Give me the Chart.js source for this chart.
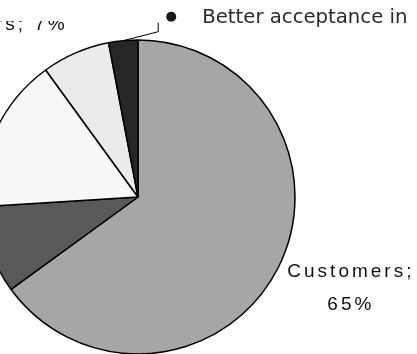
<!DOCTYPE html>
<html><head><meta charset="utf-8">
<script src="https://cdn.jsdelivr.net/npm/chart.js@4"></script>
<style>
html,body{margin:0;padding:0;background:#fff;overflow:hidden;width:417px;height:354px;position:relative;}
#wrap{position:absolute;left:-100px;top:0;width:600px;height:420px;}
</style></head><body>
<div id="wrap"><canvas id="c" width="600" height="420"></canvas></div>
<script>
const categories = ["Customers", "Employees", "Shareholders", "Partners", "Others"];
const values = [65, 9, 16, 7, 3];
const sliceColors = ["#a6a6a6", "#595959", "#f8f8f8", "#ebebeb", "#262626"];
const bulletText = "Better acceptance in";

const labelPlugin = {
  id: 'labels',
  afterDatasetsDraw(chart) {
    const ctx = chart.ctx;
    const meta = chart.getDatasetMeta(0);
    const anchor = i => {
      const a = meta.data[i];
      const mid = (a.startAngle + a.endAngle) / 2;
      return { x: a.x + Math.cos(mid) * a.outerRadius, y: a.y + Math.sin(mid) * a.outerRadius };
    };
    ctx.save();
    ctx.fillStyle = '#111';
    ctx.font = '19px "Liberation Sans", Arial, sans-serif';
    ctx.letterSpacing = '3px';
    ctx.textBaseline = 'alphabetic';
    // Customers label
    let p = anchor(0);
    ctx.textAlign = 'center';
    ctx.fillText(categories[0] + ';', p.x + 73, p.y + 9);
    ctx.fillText(values[0] + '%', p.x + 73, p.y + 42);
    // 7% label (partly hidden at top)
    p = anchor(3);
    const base = p.y - 23;
    ctx.save();
    ctx.beginPath();
    ctx.rect(0, base - 9, chart.width, 100);
    ctx.clip();
    ctx.textAlign = 'right';
    ctx.fillText(categories[3] + '; ' + values[3] + '%', p.x - 8, base);
    ctx.restore();
    // leader for smallest slice + bullet text
    p = anchor(4);
    ctx.strokeStyle = '#000';
    ctx.lineWidth = 1;
    ctx.beginPath();
    ctx.moveTo(p.x, p.y);
    ctx.lineTo(p.x + 35, p.y - 9);
    ctx.lineTo(p.x + 35, p.y - 18);
    ctx.stroke();
    ctx.fillStyle = '#1a1a1a';
    ctx.beginPath();
    ctx.arc(p.x + 48, p.y - 24, 5, 0, Math.PI * 2);
    ctx.fill();
    ctx.fillStyle = '#2a2a2a';
    ctx.letterSpacing = '0px';
    ctx.textAlign = 'left';
    ctx.font = '19.7px "DejaVu Sans", Verdana, sans-serif';
    ctx.fillText(bulletText, p.x + 79, p.y - 18);
    ctx.restore();
  }
};

new Chart(document.getElementById('c'), {
  type: 'pie',
  data: {
    labels: categories,
    datasets: [{
      data: values,
      backgroundColor: sliceColors,
      borderColor: '#000',
      borderWidth: 1.5,
      hoverOffset: 0,
      offset: 0
    }]
  },
  options: {
    responsive: false,
    devicePixelRatio: 1,
    animation: false,
    layout: { padding: { left: 80.25, top: 39.25, right: 204.25, bottom: 65.25 } },
    plugins: { legend: { display: false }, tooltip: { enabled: false } }
  },
  plugins: [labelPlugin]
});
</script>
</body></html>
